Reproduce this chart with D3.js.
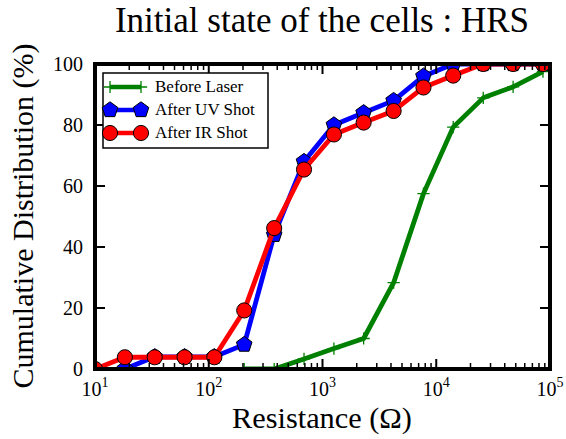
<!DOCTYPE html>
<html lang="en">
<head>
  <meta charset="UTF-8">
  <title>Initial state of the cells : HRS</title>
  <script src="https://cdn.jsdelivr.net/npm/d3@7/dist/d3.min.js"></script>
  <style>
    body { margin: 0; background: #fff; }
    text { font-family: 'Liberation Serif', 'DejaVu Serif', serif; }
    .tick-label { font-size: 20px; fill: #000; }
  </style>
</head>
<body>
  <script>
    // values
    const resistance = [10, 18.3, 33.5, 61.3, 112, 205, 376, 688, 1260, 2300, 4220, 7720, 14100, 25900, 47400, 86700];
    const beforeLaser = [null, null, null, null, null, 0, 0, 3.3, 6.7, 10, 28.3, 57.5, 79.3, 88.9, 92.5, 97.5];
    const afterUV = [null, 0, 4, 4, 4, 8, 44, 68, 80, 84, 88, 96, 100, 100, 100, 100];
    const afterIR = [0, 3.85, 3.85, 3.85, 3.85, 19.2, 46.2, 65.4, 76.9, 80.8, 84.6, 92.3, 96.2, 100, 100, 100];
    const yTicks = [0, 20, 40, 60, 80, 100];
    const xDecades = [1, 2, 3, 4, 5];

    const W = 566, H = 439;
    const pLeft = 95, pRight = 550, pTop = 64, pBottom = 369;
    const serif = "'Liberation Serif', 'DejaVu Serif', serif";

    const svg = d3.select("body").append("svg")
      .attr("width", W).attr("height", H)
      .attr("font-family", serif);

    const x = d3.scaleLog().domain([10, 1e5]).range([pLeft, pRight]);
    const y = d3.scaleLinear().domain([0, 100]).range([pBottom, pTop]);

    svg.append("clipPath").attr("id", "plotclip")
      .append("rect")
      .attr("x", pLeft).attr("y", pTop)
      .attr("width", pRight - pLeft).attr("height", pBottom - pTop);

    // custom marker shapes
    const pentagon = {
      draw(ctx, size) {
        const r = Math.sqrt(size / 2.378);
        for (let i = 0; i < 5; i++) {
          const a = -Math.PI / 2 + i * 2 * Math.PI / 5;
          const px = r * Math.cos(a), py = r * Math.sin(a);
          if (i === 0) ctx.moveTo(px, py); else ctx.lineTo(px, py);
        }
        ctx.closePath();
      }
    };
    const plus = {
      draw(ctx, size) {
        const r = Math.sqrt(size) / 2;
        ctx.moveTo(-r, 0); ctx.lineTo(r, 0);
        ctx.moveTo(0, -r); ctx.lineTo(0, r);
      }
    };

    const series = [
      { name: "Before Laser", values: beforeLaser, color: "#008000", marker: plus, size: 150, fill: "none", stroke: "#008000", sw: 1.3 },
      { name: "After UV Shot", values: afterUV, color: "#0000ff", marker: pentagon, size: 160, fill: "#0000ff", stroke: "#000", sw: 1 },
      { name: "After IR Shot", values: afterIR, color: "#ff0000", marker: d3.symbolCircle, size: 180, fill: "#ff0000", stroke: "#000", sw: 1 }
    ];

    const plot = svg.append("g").attr("clip-path", "url(#plotclip)");

    const line = d3.line()
      .defined(d => d[1] !== null)
      .x(d => x(d[0]))
      .y(d => y(d[1]));

    series.forEach(s => {
      const pts = resistance.map((r, i) => [r, s.values[i]]);
      const g = plot.append("g");
      g.append("path")
        .datum(pts)
        .attr("d", line)
        .attr("fill", "none")
        .attr("stroke", s.color)
        .attr("stroke-width", 4.8)
        .attr("stroke-linejoin", "round");
      g.selectAll("path.mk")
        .data(pts.filter(d => d[1] !== null))
        .join("path")
        .attr("class", "mk")
        .attr("transform", d => `translate(${x(d[0])},${y(d[1])})`)
        .attr("d", d3.symbol().type(s.marker).size(s.size))
        .attr("fill", s.fill)
        .attr("stroke", s.stroke)
        .attr("stroke-width", s.sw);
    });

    // ticks (inward on all four sides)
    const majorX = xDecades.map(e => Math.pow(10, e));
    const minorX = [];
    for (let e = 1; e < 5; e++) for (let m = 2; m <= 9; m++) minorX.push(m * Math.pow(10, e));

    const ticks = svg.append("g").attr("stroke", "#000");
    [pBottom, pTop].forEach(yy => {
      const dir = yy === pBottom ? -1 : 1;
      ticks.selectAll(null).data(majorX).join("line")
        .attr("x1", d => x(d)).attr("x2", d => x(d))
        .attr("y1", yy).attr("y2", yy + dir * 10)
        .attr("stroke-width", 2);
      ticks.selectAll(null).data(minorX).join("line")
        .attr("x1", d => x(d)).attr("x2", d => x(d))
        .attr("y1", yy).attr("y2", yy + dir * 6)
        .attr("stroke-width", 1.5);
    });
    [pLeft, pRight].forEach(xx => {
      const dir = xx === pLeft ? 1 : -1;
      ticks.selectAll(null).data(yTicks).join("line")
        .attr("x1", xx).attr("x2", xx + dir * 10)
        .attr("y1", d => y(d)).attr("y2", d => y(d))
        .attr("stroke-width", 2);
    });

    // frame
    svg.append("rect")
      .attr("x", pLeft).attr("y", pTop)
      .attr("width", pRight - pLeft).attr("height", pBottom - pTop)
      .attr("fill", "none").attr("stroke", "#000").attr("stroke-width", 4);

    // tick labels
    svg.append("g").selectAll("text").data(yTicks).join("text")
      .attr("class", "tick-label")
      .attr("x", 83).attr("y", d => y(d)).attr("dy", "0.35em")
      .attr("text-anchor", "end")
      .text(d => d);

    const xl = svg.append("g").selectAll("text").data(xDecades).join("text")
      .attr("class", "tick-label")
      .attr("x", d => x(Math.pow(10, d))).attr("y", 396)
      .attr("text-anchor", "middle");
    xl.append("tspan").text("10");
    xl.append("tspan").attr("dy", -9).style("font-size", "14px").text(d => d);

    function fitWidth(sel, w, maxSize) {
      const len = sel.node().getComputedTextLength();
      const fs = parseFloat(sel.style("font-size"));
      sel.style("font-size", Math.min(maxSize, fs * w / len) + "px");
    }

    // title and axis labels
    const title = svg.append("text")
      .attr("x", 322).attr("y", 32)
      .attr("text-anchor", "middle")
      .style("font-size", "28px")
      .text("Initial state of the cells : HRS");
    fitWidth(title, 446, 35);

    const xlab = svg.append("text")
      .attr("x", 322).attr("y", 428)
      .attr("text-anchor", "middle")
      .style("font-size", "24px")
      .text("Resistance (\u03A9)");
    fitWidth(xlab, 180, 31);

    const ylab = svg.append("text")
      .attr("transform", "translate(33,216) rotate(-90)")
      .attr("text-anchor", "middle")
      .style("font-size", "24px")
      .text("Cumulative Distribution (%)");
    fitWidth(ylab, 345, 30);

    // legend
    const leg = svg.append("g");
    leg.append("rect")
      .attr("x", 103).attr("y", 73).attr("width", 165).attr("height", 75)
      .attr("fill", "#fff").attr("stroke", "#000").attr("stroke-width", 1.5);
    series.forEach((s, i) => {
      const ly = 87 + i * 23;
      leg.append("line")
        .attr("x1", 110).attr("x2", 141).attr("y1", ly).attr("y2", ly)
        .attr("stroke", s.color).attr("stroke-width", 4.5);
      leg.selectAll(null).data([110, 141]).join("path")
        .attr("transform", d => `translate(${d},${ly})`)
        .attr("d", d3.symbol().type(s.marker).size(s.size))
        .attr("fill", s.fill).attr("stroke", s.stroke).attr("stroke-width", s.sw);
      leg.append("text")
        .attr("x", 155).attr("y", ly + 5)
        .style("font-size", "17px")
        .text(s.name);
    });
  </script>
</body>
</html>
